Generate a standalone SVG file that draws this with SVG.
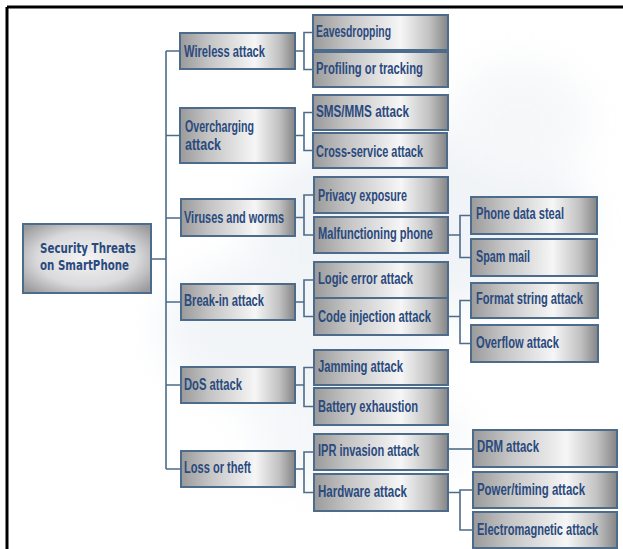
<svg xmlns="http://www.w3.org/2000/svg" width="623" height="549" viewBox="0 0 623 549">
<defs>
<linearGradient id="box" x1="0" y1="0" x2="1" y2="0">
<stop offset="0" stop-color="#9a9a9a"/>
<stop offset="0.25" stop-color="#c4c4c4"/>
<stop offset="0.65" stop-color="#f6f6f6"/>
<stop offset="0.86" stop-color="#c2c2c2"/>
<stop offset="1" stop-color="#858585"/>
</linearGradient>
<radialGradient id="rootg" cx="0.5" cy="0.5" r="0.65">
<stop offset="0" stop-color="#f4f4f4"/>
<stop offset="0.6" stop-color="#dadadc"/>
<stop offset="1" stop-color="#9a9a9c"/>
</radialGradient>
<filter id="blur" x="-50%" y="-50%" width="200%" height="200%"><feGaussianBlur stdDeviation="18"/></filter>
<style>
.b{fill:url(#box);stroke:#4d6b8a;stroke-width:2}
.r{fill:url(#rootg);stroke:#4d6b8a;stroke-width:2}
.t{font-family:"Liberation Sans",Arial,sans-serif;font-size:17px;font-weight:bold;fill:#2a4a7e}
.rt{font-family:"DejaVu Sans","Liberation Sans",sans-serif;font-size:14px;font-weight:bold;fill:#2a4a7e}
.c{fill:none;stroke:#4d6b8a;stroke-width:1.6}
</style>
</defs>
<rect width="623" height="549" fill="#ffffff"/>
<g filter="url(#blur)" opacity="0.45">
<ellipse cx="420" cy="220" rx="170" ry="90" fill="#dfe6ee"/>
<ellipse cx="300" cy="330" rx="140" ry="80" fill="#e3e9f0"/>
<ellipse cx="520" cy="120" rx="70" ry="60" fill="#eceff3"/>
<ellipse cx="360" cy="440" rx="110" ry="50" fill="#e8edf2"/>
</g>
<path d="M7 7 H623 M7 7 V549" stroke="#000" stroke-width="3" fill="none"/>

<g id="connectors">
<path class="c" d="M151 259 H166 M166 51 V469 M166 51 H180 M166 135.5 H180 M166 218 H180 M166 302 H180 M166 385 H180 M166 469 H180"/>
<path class="c" d="M295 51 H304 M313 32.5 H304 V69.5 H313"/>
<path class="c" d="M295 135.5 H304 M313 112.5 H304 V150.5 H313"/>
<path class="c" d="M295 217.5 H304 M313 195 H304 V235 H313"/>
<path class="c" d="M295 302 H304 M313 280 H304 V316.5 H313"/>
<path class="c" d="M295 385 H304 M313 367.5 H304 V406.5 H313"/>
<path class="c" d="M295 469 H304 M313 452 H304 V492.5 H313"/>
<path class="c" d="M448 235 H460 M471 215.5 H460 V257.5 H471"/>
<path class="c" d="M448 316.5 H460 M471 300.5 H460 V343.5 H471"/>
<path class="c" d="M448 449 H473"/>
<path class="c" d="M448 492.5 H460 M473 490 H460 V530 H473"/>
</g>

<g id="root"><rect class="r" x="23" y="224" width="128" height="69"/>
<text class="rt" x="40" y="253" textLength="96" lengthAdjust="spacingAndGlyphs">Security Threats</text>
<text class="rt" x="40" y="270" textLength="89" lengthAdjust="spacingAndGlyphs">on SmartPhone</text></g>

<g id="wireless"><rect class="b" x="180" y="33" width="115" height="36"/><text class="t" transform="translate(184 57) scale(0.72 1)" textLength="112.5" lengthAdjust="spacingAndGlyphs">Wireless attack</text></g>
<g id="overcharging"><rect class="b" x="180" y="108" width="115" height="55"/><text class="t" transform="translate(185 132) scale(0.72 1)" textLength="95.8" lengthAdjust="spacingAndGlyphs">Overcharging</text><text class="t" transform="translate(185 150) scale(0.72 1)" textLength="50" lengthAdjust="spacingAndGlyphs">attack</text></g>
<g id="viruses"><rect class="b" x="181" y="199" width="114" height="37"/><text class="t" transform="translate(184 223) scale(0.72 1)" textLength="138.9" lengthAdjust="spacingAndGlyphs">Viruses and worms</text></g>
<g id="breakin"><rect class="b" x="181" y="284" width="114" height="36"/><text class="t" transform="translate(184 306) scale(0.72 1)" textLength="111.1" lengthAdjust="spacingAndGlyphs">Break-in attack</text></g>
<g id="dos"><rect class="b" x="181" y="367" width="114" height="36"/><text class="t" transform="translate(184 390) scale(0.72 1)" textLength="80.6" lengthAdjust="spacingAndGlyphs">DoS attack</text></g>
<g id="loss"><rect class="b" x="181" y="451" width="114" height="36"/><text class="t" transform="translate(184 473) scale(0.72 1)" textLength="93.1" lengthAdjust="spacingAndGlyphs">Loss or theft</text></g>

<g id="eavesdropping"><rect class="b" x="313" y="15" width="135" height="35"/><text class="t" transform="translate(316 37) scale(0.72 1)" textLength="104.2" lengthAdjust="spacingAndGlyphs">Eavesdropping</text></g>
<g id="profiling"><rect class="b" x="313" y="52" width="135" height="35"/><text class="t" transform="translate(316 74) scale(0.72 1)" textLength="148.6" lengthAdjust="spacingAndGlyphs">Profiling or tracking</text></g>
<g id="sms"><rect class="b" x="313" y="95" width="135" height="35"/><text class="t" transform="translate(316 117) scale(0.72 1)" textLength="129.2" lengthAdjust="spacingAndGlyphs">SMS/MMS attack</text></g>
<g id="crossservice"><rect class="b" x="313" y="133" width="134" height="35"/><text class="t" transform="translate(316 157) scale(0.72 1)" textLength="148.6" lengthAdjust="spacingAndGlyphs">Cross-service attack</text></g>
<g id="privacy"><rect class="b" x="314" y="177" width="134" height="36"/><text class="t" transform="translate(318 201) scale(0.72 1)" textLength="123.6" lengthAdjust="spacingAndGlyphs">Privacy exposure</text></g>
<g id="malfunctioning"><rect class="b" x="314" y="217" width="134" height="36"/><text class="t" transform="translate(318 239) scale(0.72 1)" textLength="159.7" lengthAdjust="spacingAndGlyphs">Malfunctioning phone</text></g>
<g id="logic"><rect class="b" x="314" y="262" width="134" height="36"/><text class="t" transform="translate(318 284) scale(0.72 1)" textLength="131.9" lengthAdjust="spacingAndGlyphs">Logic error attack</text></g>
<g id="codeinjection"><rect class="b" x="314" y="298" width="134" height="37"/><text class="t" transform="translate(318 322) scale(0.72 1)" textLength="156.9" lengthAdjust="spacingAndGlyphs">Code injection  attack</text></g>
<g id="jamming"><rect class="b" x="314" y="350" width="134" height="35"/><text class="t" transform="translate(318 372) scale(0.72 1)" textLength="118.1" lengthAdjust="spacingAndGlyphs">Jamming attack</text></g>
<g id="battery"><rect class="b" x="314" y="388" width="134" height="37"/><text class="t" transform="translate(318 412) scale(0.72 1)" textLength="138.9" lengthAdjust="spacingAndGlyphs">Battery exhaustion</text></g>
<g id="ipr"><rect class="b" x="314" y="434" width="134" height="36"/><text class="t" transform="translate(318 456) scale(0.72 1)" textLength="140.3" lengthAdjust="spacingAndGlyphs">IPR invasion attack</text></g>
<g id="hardware"><rect class="b" x="314" y="474" width="134" height="37"/><text class="t" transform="translate(318 497) scale(0.72 1)" textLength="123.6" lengthAdjust="spacingAndGlyphs">Hardware attack</text></g>

<g id="phonedata"><rect class="b" x="471" y="197" width="126" height="37"/><text class="t" transform="translate(476 219) scale(0.72 1)" textLength="122.2" lengthAdjust="spacingAndGlyphs">Phone  data steal</text></g>
<g id="spam"><rect class="b" x="471" y="239" width="126" height="37"/><text class="t" transform="translate(476 262) scale(0.72 1)" textLength="75" lengthAdjust="spacingAndGlyphs">Spam mail</text></g>
<g id="formatstring"><rect class="b" x="471" y="283" width="127" height="35"/><text class="t" transform="translate(476 304) scale(0.72 1)" textLength="148.6" lengthAdjust="spacingAndGlyphs">Format string attack</text></g>
<g id="overflow"><rect class="b" x="471" y="325" width="127" height="37"/><text class="t" transform="translate(476 348) scale(0.72 1)" textLength="115.3" lengthAdjust="spacingAndGlyphs">Overflow attack</text></g>
<g id="drm"><rect class="b" x="473" y="430" width="144" height="37"/><text class="t" transform="translate(477 452) scale(0.72 1)" textLength="86.1" lengthAdjust="spacingAndGlyphs">DRM attack</text></g>
<g id="powertiming"><rect class="b" x="473" y="472" width="144" height="36"/><text class="t" transform="translate(477 495) scale(0.72 1)" textLength="150" lengthAdjust="spacingAndGlyphs">Power/timing attack</text></g>
<g id="electromagnetic"><rect class="b" x="473" y="512" width="144" height="36"/><text class="t" transform="translate(477 535) scale(0.72 1)" textLength="168.1" lengthAdjust="spacingAndGlyphs">Electromagnetic attack</text></g>
</svg>
